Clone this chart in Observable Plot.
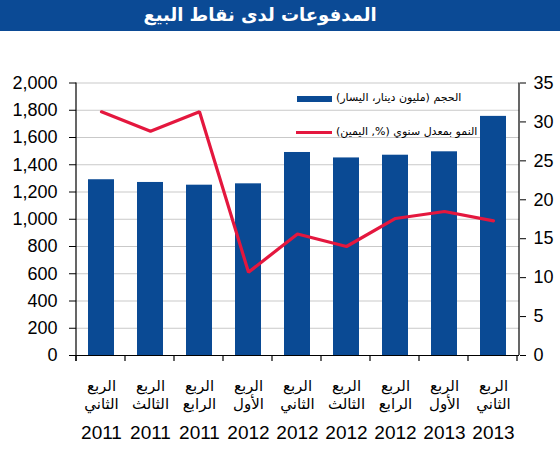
<!DOCTYPE html>
<html><head><meta charset="utf-8">
<script src="https://cdn.jsdelivr.net/npm/d3@7"></script>
<script src="https://cdn.jsdelivr.net/npm/@observablehq/plot@0.6"></script>
<style>
body{margin:0;background:#fff;font-family:"Liberation Sans","DejaVu Sans",Arial,sans-serif;}
#wrap{position:relative;width:560px;height:450px;overflow:hidden}
#title{height:31px;background:#0b4a95;color:#fff;font-weight:bold;font-size:18px;line-height:30px;text-align:center;padding-right:40px;direction:rtl;font-family:"DejaVu Sans",sans-serif}
.leg{position:absolute;font-size:11px;direction:rtl;white-space:nowrap;color:#000;line-height:14px;font-family:"DejaVu Sans",sans-serif}
.sw{position:absolute}
</style></head><body>
<div id="wrap">
<div id="title"></div>
<div id="chart"></div>
<div class="sw" style="left:297px;top:96px;width:35px;height:6px;background:#0a4a94"></div>
<div class="leg" id="leg1" style="left:336px;top:91px"></div>
<div class="sw" style="left:296px;top:131px;width:36px;height:3px;background:#e4173e"></div>
<div class="leg" id="leg2" style="left:336px;top:125px"></div>
</div>
<script>
const quarterWord = "الربع";
const quarters = ["الثاني","الثالث","الرابع","الأول","الثاني","الثالث","الرابع","الأول","الثاني"];
const years = ["2011","2011","2011","2012","2012","2012","2012","2013","2013"];
const volume = [1290, 1270, 1250, 1260, 1490, 1450, 1470, 1495, 1755];
const growth = [31.3, 28.8, 31.3, 10.7, 15.6, 14.0, 17.6, 18.5, 17.3];
const leftTicks = [0,200,400,600,800,1000,1200,1400,1600,1800,2000];
const rightTicks = [0,5,10,15,20,25,30,35];
const titleText = "المدفوعات لدى نقاط البيع";
const legendVolume = "الحجم (مليون دينار، اليسار)";
const legendGrowth = "النمو بمعدل سنوي (%, اليمين)";

document.getElementById("title").textContent = titleText;
document.getElementById("leg1").textContent = legendVolume;
document.getElementById("leg2").textContent = legendGrowth;

const leftMax = 2000, rightMax = 35;
const toLeft = v => v * leftMax / rightMax;
const cats = quarters.map((q, i) => q + " " + years[i]);
const data = cats.map((c, i) => ({cat: c, q: quarters[i], yr: years[i], volume: volume[i], growth: growth[i]}));

const barColor = "#0a4a94", lineColor = "#e4173e";

const plot = Plot.plot({
  width: 560, height: 419,
  marginTop: 51.5, marginBottom: 95, marginLeft: 76, marginRight: 41,
  style: {fontFamily: "'Liberation Sans','DejaVu Sans',Arial,sans-serif", color: "#000", background: "#fff"},
  x: {domain: cats, paddingInner: 0.46, paddingOuter: 0.23},
  y: {domain: [0, leftMax]},
  marks: [
    Plot.ruleY(leftTicks.filter(d => d > 0), {stroke: "#c9c9c9", strokeWidth: 1}),
    Plot.barY(data, {x: "cat", y: "volume", fill: barColor}),
    Plot.line(data, {x: "cat", y: d => toLeft(d.growth), stroke: lineColor, strokeWidth: 3.2, strokeLinejoin: "miter"}),
    Plot.ruleY([0], {stroke: "#000", strokeWidth: 1.2}),
    Plot.axisY(leftTicks, {anchor: "left", tickFormat: d3.format(","), tickSize: 7, tickPadding: 12, fontSize: 18, label: null}),
    Plot.axisY(rightTicks.map(toLeft), {anchor: "right", tickFormat: d => String(Math.round(d * rightMax / leftMax)), tickSize: 6, tickPadding: 8, fontSize: 18, label: null}),
    Plot.axisX({tickSize: 0, tickPadding: 25, tickFormat: () => quarterWord, fontSize: 15, label: null}),
    Plot.axisX({tickSize: 0, tickPadding: 43, tickFormat: d => d.split(" ")[0], fontSize: 15, label: null}),
    Plot.axisX({tickSize: 0, tickPadding: 70, tickFormat: d => d.split(" ")[1], fontSize: 19, label: null})
  ]
});

// axis lines and category boundary ticks from the scales
const xs = plot.scale("x"), ys = plot.scale("y");
const x0 = xs.range[0], x1 = xs.range[1];
const yb = ys.range[0], yt = ys.range[1];
const svg = d3.select(plot);
const g = svg.append("g").attr("stroke", "#000").attr("stroke-width", 1.2);
g.append("line").attr("x1", x0).attr("x2", x0).attr("y1", yt).attr("y2", yb + 6);
g.append("line").attr("x1", x1).attr("x2", x1).attr("y1", yt).attr("y2", yb);
for (let k = 0; k <= cats.length; k++) {
  const xx = x0 + k * xs.step;
  g.append("line").attr("x1", xx).attr("x2", xx).attr("y1", yb).attr("y2", yb + 6);
}
document.getElementById("chart").appendChild(plot);
</script>
</body></html>
